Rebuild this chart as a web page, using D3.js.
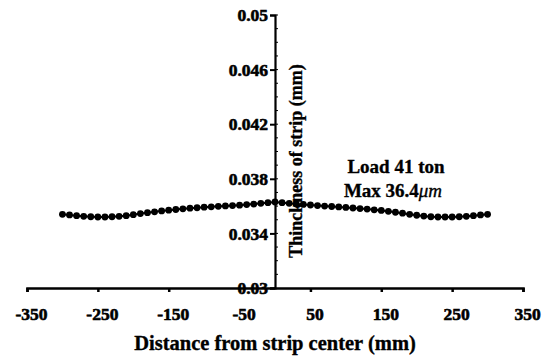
<!DOCTYPE html>
<html><head><meta charset="utf-8">
<script src="https://cdn.jsdelivr.net/npm/d3@7"></script>
<style>
body{margin:0;background:#fff;}
text{font-family:"Liberation Serif","Times New Roman",serif;font-weight:bold;fill:#000;stroke:#000;stroke-width:0.35px;}
.tick text{stroke-width:0.6px;}
</style></head>
<body><svg id="c" width="552" height="358"></svg>
<script>
const distances = d3.range(-300, 301, 10);
const thickness = [
0.03540,0.03535,0.03530,0.03525,0.03522,0.03520,0.03520,0.03522,0.03525,0.03530,
0.03537,0.03545,0.03552,0.03558,0.03565,0.03570,0.03575,0.03580,0.03585,0.03588,
0.03592,0.03595,0.03598,0.03601,0.03604,0.03607,0.03611,0.03615,0.03620,0.03625,
0.03630,
0.03625,0.03620,0.03616,0.03612,0.03608,0.03604,0.03600,0.03597,0.03594,0.03590,
0.03586,0.03582,0.03578,0.03573,0.03568,0.03562,0.03555,0.03548,0.03540,0.03533,
0.03527,0.03522,0.03520,0.03520,0.03520,0.03522,0.03525,0.03530,0.03535,0.03540];
const xTicks = [-350,-250,-150,-50,50,150,250,350];
const yTicks = [0.03,0.034,0.038,0.042,0.046,0.05];
const yTickLabels = ["0.03","0.034","0.038","0.042","0.046","0.05"];
const xTitle = "Distance from strip center (mm)";
const yTitle = "Thinckness of strip (mm)";
const annot1 = "Load 41 ton";

const svg = d3.select("#c");
const x = d3.scaleLinear().domain([-350,350]).range([27,523]);
const y = d3.scaleLinear().domain([0.03,0.05]).range([288,15]);

// minor y ticks on right side
const minor = d3.range(0.031,0.0500001,0.001);
svg.append("g").selectAll("line").data(minor).join("line")
  .attr("x1",x(0)).attr("x2",x(0)+3).attr("y1",d=>y(d)).attr("y2",d=>y(d))
  .attr("stroke","#000").attr("stroke-width",1);

// y axis
const yAxis = d3.axisLeft(y).tickValues(yTicks).tickSize(5).tickPadding(2)
  .tickFormat((d,i)=>yTickLabels[i]);
const gy = svg.append("g").attr("transform",`translate(${x(0)},0)`).call(yAxis)
  .attr("font-family",null).attr("font-size",null);
gy.select(".domain").attr("stroke-width",2.2);
gy.selectAll(".tick line").attr("stroke-width",2);
gy.selectAll(".tick text").style("font-size","17.5px").style("font-weight","bold")
  .style("font-family","'Liberation Serif',serif");

// x axis
const xAxis = d3.axisBottom(x).tickValues(xTicks).tickSize(4).tickPadding(16).tickFormat(d=>d);
const gx = svg.append("g").attr("transform",`translate(0,${y(0.03)})`).call(xAxis)
  .attr("font-family",null).attr("font-size",null);
gx.select(".domain").attr("stroke-width",2.6);
gx.selectAll(".tick line").attr("stroke-width",2.5);
gx.selectAll(".tick text").style("font-size","17.5px").style("font-weight","bold")
  .style("font-family","'Liberation Serif',serif").attr("dx",4);

// line + markers
const data = distances.map((d,i)=>({x:d,y:thickness[i]}));
svg.append("path").datum(data)
  .attr("fill","none").attr("stroke","#000").attr("stroke-width",2)
  .attr("d",d3.line().x(d=>x(d.x)).y(d=>y(d.y)));
svg.append("g").selectAll("circle").data(data).join("circle")
  .attr("cx",d=>x(d.x)).attr("cy",d=>y(d.y)).attr("r",3.4).attr("fill","#000");

// titles
svg.append("text").attr("x",275).attr("y",350).attr("text-anchor","middle")
  .style("font-size","20.5px").text(xTitle);
svg.append("text").attr("transform","translate(302,161) rotate(-90)")
  .attr("text-anchor","middle").style("font-size","18px").text(yTitle);

svg.append("text").attr("x",396).attr("y",173).attr("text-anchor","middle")
  .style("font-size","19px").text(annot1);
const t2 = svg.append("text").attr("x",393).attr("y",197).attr("text-anchor","middle")
  .style("font-size","19px");
t2.append("tspan").text("Max 36.4");
t2.append("tspan").style("font-style","italic").style("font-weight","normal").text("μm");
</script></body></html>
